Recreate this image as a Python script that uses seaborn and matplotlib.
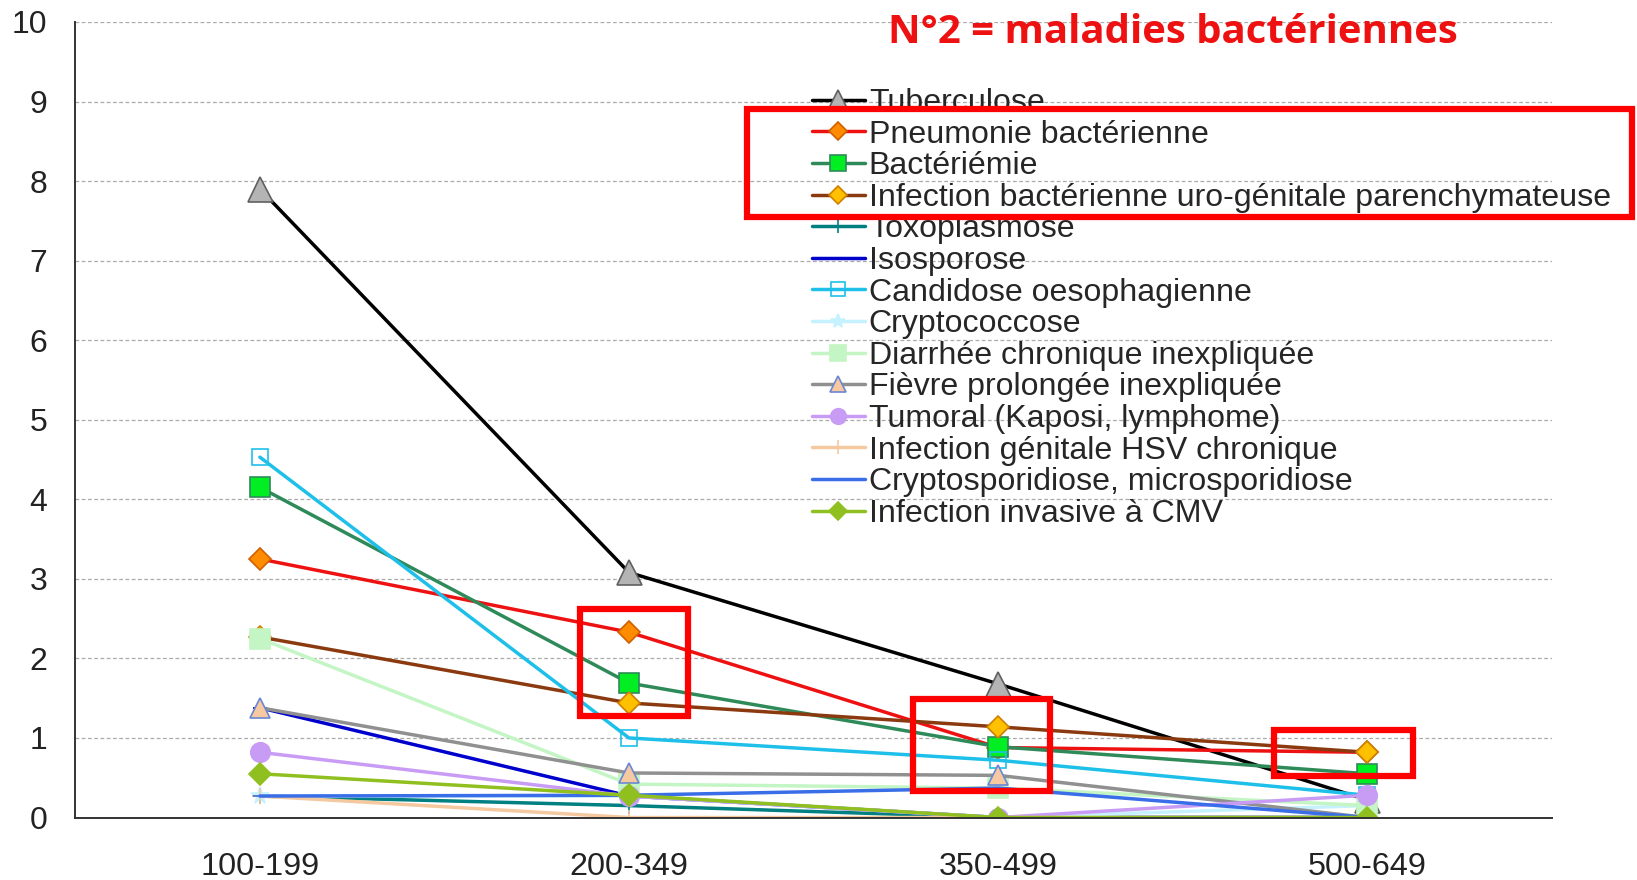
import matplotlib
matplotlib.use("Agg")
import matplotlib.pyplot as plt
import matplotlib.patches as mpatches
import seaborn as sns

# CD4 classes
categories = ["100-199", "200-349", "350-499", "500-649"]

series_names = [
    "Tuberculose",
    "Pneumonie bactérienne",
    "Bactériémie",
    "Infection bactérienne uro-génitale parenchymateuse",
    "Toxoplasmose",
    "Isosporose",
    "Candidose oesophagienne",
    "Cryptococcose",
    "Diarrhée chronique inexpliquée",
    "Fièvre prolongée inexpliquée",
    "Tumoral (Kaposi, lymphome)",
    "Infection génitale HSV chronique",
    "Cryptosporidiose, microsporidiose",
    "Infection invasive à CMV",
]

tuberculose = [7.9, 3.08, 1.68, 0.22]
pneumonie = [3.25, 2.33, 0.88, 0.82]
bacteriemie = [4.15, 1.69, 0.89, 0.55]
uro_genitale = [2.27, 1.44, 1.14, 0.82]
toxoplasmose = [0.27, 0.15, 0.0, 0.0]
isosporose = [1.38, 0.27, 0.0, 0.0]
candidose = [4.53, 1.0, 0.72, 0.28]
cryptococcose = [0.27, 0.27, 0.0, 0.15]
diarrhee = [2.25, 0.42, 0.37, 0.15]
fievre = [1.38, 0.56, 0.53, 0.0]
tumoral = [0.82, 0.27, 0.0, 0.28]
hsv = [0.27, 0.0, 0.0, 0.0]
cryptosporidiose = [0.27, 0.28, 0.37, 0.0]
cmv = [0.55, 0.28, 0.0, 0.0]

values = [tuberculose, pneumonie, bacteriemie, uro_genitale, toxoplasmose,
          isosporose, candidose, cryptococcose, diarrhee, fievre, tumoral,
          hsv, cryptosporidiose, cmv]

# line color, marker, face color, edge color, marker size
styles = [
    ("#000000", "^", "#b4b4b4", "#606060", 18),
    ("#ee1111", "D", "#ff8c00", "#d06000", 11),
    ("#2f8a5a", "s", "#00ee22", "#2f8a5a", 15),
    ("#8b3a10", "D", "#ffc000", "#d08000", 11),
    ("#008080", "+", "#008080", "#008080", 12),
    ("#0000cc", "_", "#0000cc", "#0000cc", 10),
    ("#1ec0ea", "s", "none", "#1ec0ea", 12),
    ("#c6f2ff", "*", "#c6f2ff", "#c6f2ff", 13),
    ("#c4f5c4", "s", "#c4f5c4", "#c4f5c4", 14),
    ("#909090", "^", "#f7c9a0", "#6a86d4", 14),
    ("#c89cf5", "o", "#c89cf5", "#c89cf5", 14),
    ("#f5c9a0", "+", "#f5c9a0", "#f5c9a0", 12),
    ("#3a6ee8", "_", "#3a6ee8", "#3a6ee8", 10),
    ("#90c020", "D", "#90c020", "#90c020", 11),
]

sns.set_style("white")
plt.rcParams["font.family"] = ["Liberation Sans", "DejaVu Sans"]

fig = plt.figure(figsize=(16.37, 8.8), dpi=100)
ax = fig.add_axes([0.046, 0.071, 0.902, 0.904])

for name, vals, (lc, mk, fc, ec, ms) in zip(series_names, values, styles):
    sns.lineplot(x=categories, y=vals, ax=ax, color=lc, linewidth=2.5,
                 marker=mk, markersize=ms, markerfacecolor=fc,
                 markeredgecolor=ec, markeredgewidth=1.2, label=name)

ax.set_xlim(-0.5, 3.5)
ax.set_ylim(0, 10)
ax.set_yticks(range(0, 11))
ax.set_xticks([0, 1, 2, 3])
ax.set_xticks([-0.5, 0.5, 1.5, 2.5, 3.5], minor=True)
ax.tick_params(axis="x", which="major", length=0, labelsize=23.3, pad=25, colors="#222222")
ax.tick_params(axis="x", which="minor", length=8, direction="out", width=1.2, color="#333333")
ax.tick_params(axis="y", which="major", length=8, direction="out", width=1.2,
               labelsize=23, pad=12, colors="#222222")
ax.yaxis.grid(True, linestyle=(0, (3, 2)), color="#aaaaaa", linewidth=0.9)
ax.set_axisbelow(True)
for side in ["top", "right"]:
    ax.spines[side].set_visible(False)
for side in ["left", "bottom"]:
    ax.spines[side].set_color("#333333")
    ax.spines[side].set_linewidth(1.4)
ax.set_xlabel("")
ax.set_ylabel("")

ax.legend(loc="upper left", bbox_to_anchor=(812 / 1637, 1 - 88 / 880),
          bbox_transform=fig.transFigure, frameon=False, fontsize=23.1,
          borderpad=0, borderaxespad=0, labelspacing=0.05,
          handlelength=1.64, handletextpad=0.13, markerscale=0.8)

fig.text(0.7165, 0.963, "N°2 = maladies bactériennes", color="#ee1111",
         fontsize=28.9, fontweight="bold", ha="center", va="center",
         family=["Open Sans", "DejaVu Sans"])

# red highlight boxes
ax.add_patch(mpatches.Rectangle((0.867, 1.27), 0.294, 1.35, fill=False,
                                edgecolor="#ff0000", linewidth=4.5, zorder=20))
ax.add_patch(mpatches.Rectangle((1.768, 0.33), 0.373, 1.16, fill=False,
                                edgecolor="#ff0000", linewidth=4.5, zorder=20))
ax.add_patch(mpatches.Rectangle((2.748, 0.52), 0.376, 0.58, fill=False,
                                edgecolor="#ff0000", linewidth=4.5, zorder=20))
fig.patches.append(mpatches.Rectangle((747 / 1637, 1 - 217 / 880), 885 / 1637, 108 / 880,
                                      fill=False, edgecolor="#ff0000", linewidth=4.5,
                                      transform=fig.transFigure, zorder=20))

fig.savefig("out.png", dpi=100)
plt.close(fig)
